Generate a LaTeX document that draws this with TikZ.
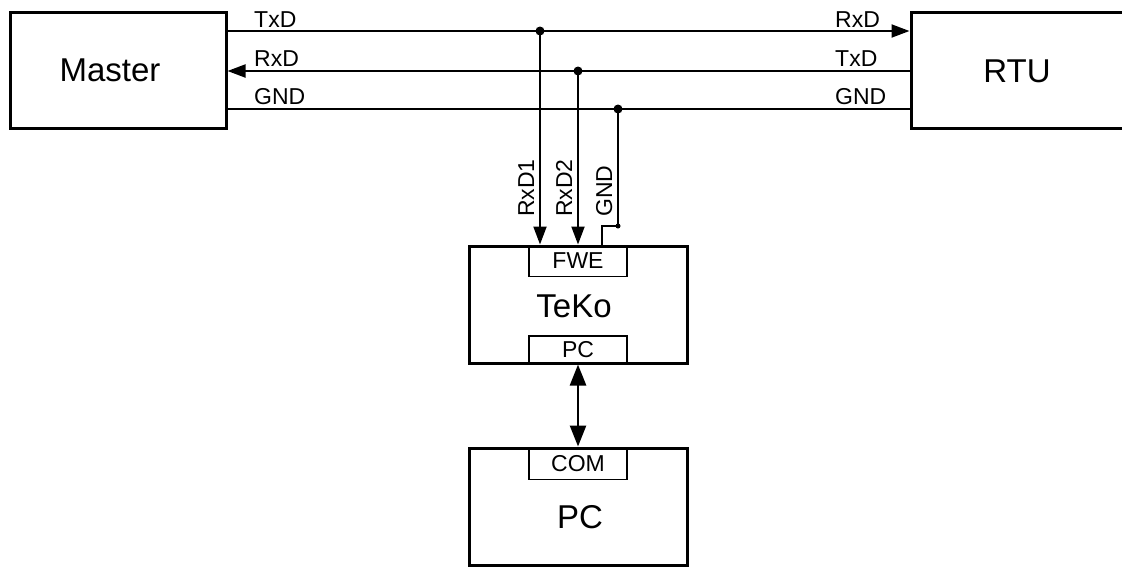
\documentclass[tikz,border=0pt]{standalone}
\usepackage{fontspec}
\setmainfont{Liberation Sans}
\usetikzlibrary{arrows.meta}
\tikzset{
  bigbox/.style={draw, line width=3pt, rectangle, inner sep=0pt},
  port/.style={draw, line width=1.5pt, rectangle, inner sep=0pt, font=\fontsize{23}{23}\selectfont},
  title/.style={font=\fontsize{33}{33}\selectfont, inner sep=0pt},
  wire/.style={line width=2pt},
  wlabel/.style={font=\fontsize{23}{23}\selectfont, inner sep=0pt, anchor=base west},
  vlabel/.style={font=\fontsize{23}{23}\selectfont, inner sep=0pt, anchor=base west, rotate=90},
  tip/.style={-{Triangle[length=18pt,width=13pt]}},
  bigtip/.style={{Triangle[length=21pt,width=16pt]}-{Triangle[length=21pt,width=16pt]}},
  junction/.style={circle, fill, inner sep=0pt, minimum size=9pt},
  smalldot/.style={circle, fill, inner sep=0pt, minimum size=5pt}
}
\begin{document}
\begin{tikzpicture}[x=1pt, y=-1pt]
\clip (0,0) rectangle (1122,568);
\fill[white] (0,0) rectangle (1122,568);
% boxes
\node[bigbox, minimum width=216pt, minimum height=116pt] (master) at (118,70) {};
\node[title] (mastert) at (110,70) {Master};
\node[bigbox, minimum width=217pt, minimum height=116pt] (rtu) at (1019.5,70) {};
\node[title] (rtut) at (1017,71) {RTU};
\node[bigbox, minimum width=218pt, minimum height=117pt] (teko) at (578,304.5) {};
\node[title] (tekot) at (574,306) {TeKo};
\node[port, anchor=north, minimum width=98pt, minimum height=31pt] (fwe) at (teko.north) {FWE};
\node[port, anchor=south, minimum width=98pt, minimum height=28pt] (pcport) at (teko.south) {PC};
\node[bigbox, minimum width=218pt, minimum height=117pt] (pc) at (578,506.5) {};
\node[title] (pct) at (580,517) {PC};
\node[port, anchor=north, minimum width=98pt, minimum height=32pt] (com) at (pc.north) {COM};
% junctions
\coordinate (j1) at (540,31);
\coordinate (j2) at (578,71);
\coordinate (j3) at (618,109);
\coordinate (gc) at (618,226);
\coordinate (gd) at (602,226);
% bus wires
\draw[wire, tip] (master.east |- j1) -- (rtu.west |- j1);
\draw[wire, tip] (rtu.west |- j2) -- (master.east |- j2);
\draw[wire] (master.east |- j3) -- (rtu.west |- j3);
% drops
\draw[wire, tip] (j1) -- (j1 |- teko.north);
\draw[wire, tip] (j2) -- (j2 |- teko.north);
\draw[wire] (j3) -- (gc) -- (gd) -- (gd |- teko.north);
\node[junction] (d1) at (j1) {};
\node[junction] (d2) at (j2) {};
\node[junction] (d3) at (j3) {};
\node[smalldot] (d4) at (gc) {};
% TeKo - PC link
\draw[line width=2.5pt, bigtip] (pcport.south) -- (com.north);
% wire labels
\node[wlabel] (l1) at (254,27) {TxD};
\node[wlabel] (l2) at (254,66) {RxD};
\node[wlabel] (l3) at (254,104) {GND};
\node[wlabel] (r1) at (835,27) {RxD};
\node[wlabel] (r2) at (835,66) {TxD};
\node[wlabel] (r3) at (835,104) {GND};
\node[vlabel] (v1) at (534,217) {RxD1};
\node[vlabel] (v2) at (572,217) {RxD2};
\node[vlabel] (v3) at (612,217) {GND};
\end{tikzpicture}
\end{document}
